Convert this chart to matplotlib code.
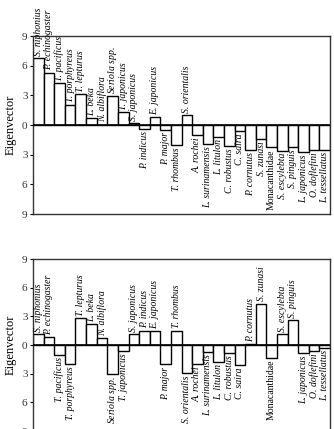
import matplotlib
matplotlib.use("Agg")
import matplotlib.pyplot as plt

plt.rcParams['font.family'] = ['Liberation Serif', 'DejaVu Serif']
plt.rcParams['mathtext.fontset'] = 'custom'
plt.rcParams['mathtext.rm'] = 'Liberation Serif'
plt.rcParams['mathtext.it'] = 'Liberation Serif:italic'

species = ["S. niphonius", "P. echinogaster", "T. pacificus", "T. porphyreus",
           "T. lepturus", "L. beka", "N. albiflora", "Seriola spp.", "T. japonicus",
           "S. japonicus", "P. indicus", "E. japonicus", "P. major", "T. rhombus",
           "S. orientalis", "A. rochei", "L. surinamensis", "L. litulon",
           "C. robustus", "C. saira", "P. cornutus", "S. zunasi", "Monacanthidae",
           "S. escylebta", "S. pinguis", "L. japonicus", "O. doflefini",
           "L. tessellatus"]

values_top = [6.75, 5.3, 4.23, 2.05, 3.12, 0.67, 0.05, 2.9, 1.3, 0.2, -0.4, 0.77,
              -0.5, -1.98, 0.97, -1.04, -1.88, -1.17, -2.15, -0.57, -2.48, -1.41,
              -2.25, -2.58, -2.25, -2.72, -2.55, -2.48]

values_bottom = [1.16, 0.81, -0.99, -2.0, 2.82, 2.22, 0.7, -3.0, -0.63, 1.13, 1.51,
                 1.44, -2.0, 1.51, -2.92, -2.0, -0.7, -1.76, -0.81, -2.11, 0.1, 4.33,
                 -1.3, 1.13, 2.64, -0.81, -0.63, -0.25]

yticks = [-9, -6, -3, 0, 3, 6, 9]
ytick_labels = ["9", "6", "3", "0", "3", "6", "9"]


def fmt(name):
    if name == "Monacanthidae":
        return name
    if name.endswith(" spp."):
        return r"$\it{" + name.split()[0] + r"}$ spp."
    return name


def draw(ax, vals):
    x = list(range(len(species)))
    ax.bar(x, vals, width=1.0, color='white', edgecolor='black', linewidth=1.0, zorder=2)
    ax.axhline(0, color='black', linewidth=1.2, zorder=3)
    ax.set_xlim(-0.5, len(species) - 0.5)
    ax.set_ylim(-9, 9)
    ax.set_yticks(yticks)
    ax.set_yticklabels(ytick_labels, fontsize=8, color='#333333')
    ax.set_xticks([])
    ax.tick_params(axis='y', direction='out', length=2, width=0.8, pad=2)
    for s in ax.spines.values():
        s.set_color('#333333')
        s.set_linewidth(1.0)
    ax.set_ylabel("Eigenvector", fontsize=9)
    for xi, v, name in zip(x, vals, species):
        label = fmt(name)
        style = 'normal' if name == "Monacanthidae" else 'italic'
        if v >= 0:
            ax.text(xi, v + 0.25, label, rotation=90, ha='center', va='bottom',
                    fontsize=7, style=style, clip_on=False)
        else:
            ax.text(xi, v - 0.25, label, rotation=90, ha='center', va='top',
                    fontsize=7, style=style, clip_on=False)


fig = plt.figure(figsize=(3.34, 4.29), dpi=100)
ax1 = fig.add_axes([0.099, 0.501, 0.889, 0.415])
ax2 = fig.add_axes([0.099, -0.005, 0.889, 0.401])
draw(ax1, values_top)
draw(ax2, values_bottom)
ax1.yaxis.set_label_coords(-0.055, 0.5)
ax2.yaxis.set_label_coords(-0.055, 0.5)

fig.savefig("out.png", dpi=100)
